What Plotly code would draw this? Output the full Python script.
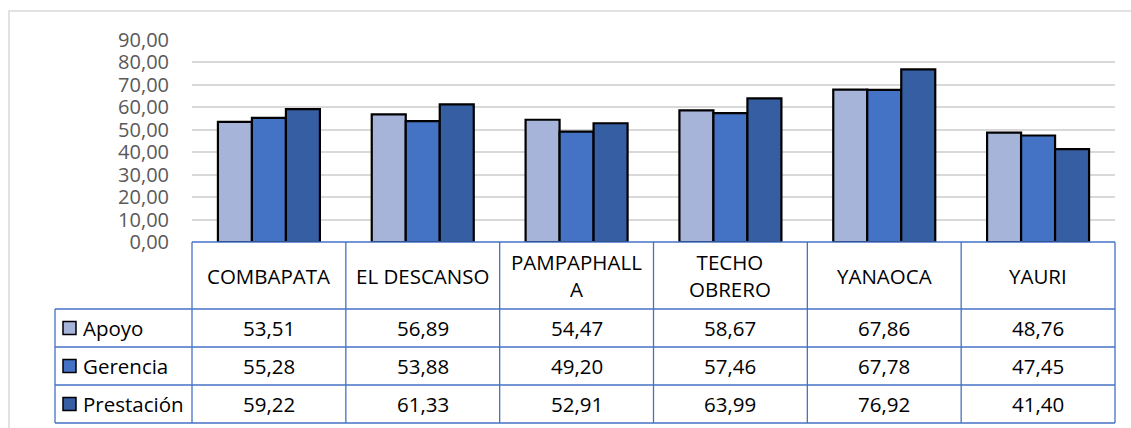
import plotly.graph_objects as go

# Sedes evaluadas y puntajes por dimensión
categories = ["COMBAPATA", "EL DESCANSO", "PAMPAPHALLA", "TECHO OBRERO", "YANAOCA", "YAURI"]
header_labels = ["COMBAPATA", "EL DESCANSO", "PAMPAPHALL<br>A", "TECHO<br>OBRERO", "YANAOCA", "YAURI"]
series_names = ["Apoyo", "Gerencia", "Prestación"]
apoyo = [53.51, 56.89, 54.47, 58.67, 67.86, 48.76]
gerencia = [55.28, 53.88, 49.20, 57.46, 67.78, 47.45]
prestacion = [59.22, 61.33, 52.91, 63.99, 76.92, 41.40]
y_ticks = [0, 10, 20, 30, 40, 50, 60, 70, 80, 90]

series_values = [apoyo, gerencia, prestacion]
colors = ["#A6B4DA", "#4472C4", "#365EA3"]

W, H = 1131, 428
PL, PR, PT, PB = 192, 1115, 40, 242  # plot area in pixels


def px(x):
    return (x - PL) / (PR - PL)


def py(y):
    return (PB - y) / (PB - PT)


FONT = "Open Sans"
BORDER = "#4472C4"
TABLE_SIZE = 20.5

fig = go.Figure()
for name, vals, col in zip(series_names, series_values, colors):
    fig.add_trace(go.Bar(
        x=categories, y=vals, name=name,
        marker=dict(color=col, line=dict(color="#000000", width=2.2)),
        showlegend=False, hoverinfo="x+y+name",
    ))

shapes = []
# outer chart frame
shapes.append(dict(type="rect", xref="paper", yref="paper",
                   x0=px(9), x1=px(1140), y0=py(11), y1=py(440),
                   line=dict(color="#D9D9D9", width=1.5), layer="below"))

# data table grid
col_w = (PR - PL) / len(categories)
row_edges = [309, 347, 385, 423]
leg_left = 55
line_style = dict(color=BORDER, width=1.3)
shapes.append(dict(type="line", xref="paper", yref="paper",
                   x0=px(PL), x1=px(PR), y0=py(PB), y1=py(PB), line=line_style))
for ry in row_edges:
    shapes.append(dict(type="line", xref="paper", yref="paper",
                       x0=px(leg_left), x1=px(PR), y0=py(ry), y1=py(ry), line=line_style))
shapes.append(dict(type="line", xref="paper", yref="paper",
                   x0=px(leg_left), x1=px(leg_left), y0=py(row_edges[0]), y1=py(row_edges[-1]),
                   line=line_style))
for k in range(len(categories) + 1):
    xx = PL + k * col_w
    shapes.append(dict(type="line", xref="paper", yref="paper",
                       x0=px(xx), x1=px(xx), y0=py(PB), y1=py(row_edges[-1]), line=line_style))

annotations = []
# column headers
for cat, lab in zip(categories, header_labels):
    annotations.append(dict(x=cat, xref="x", y=py((PB + row_edges[0]) / 2), yref="paper",
                            text=lab, showarrow=False, xanchor="center", yanchor="middle",
                            font=dict(family=FONT, size=TABLE_SIZE, color="#000000")))

# series rows: legend key, name and values
for r, (name, vals, col) in enumerate(zip(series_names, series_values, colors)):
    top, bot = row_edges[r], row_edges[r + 1]
    cy = (top + bot) / 2
    shapes.append(dict(type="rect", xref="paper", yref="paper",
                       x0=px(63), x1=px(76), y0=py(cy - 6.5), y1=py(cy + 6.5),
                       fillcolor=col, line=dict(color="#000000", width=1.5)))
    annotations.append(dict(x=px(81), xref="paper", y=py(cy), yref="paper",
                            text=name, showarrow=False, xanchor="left", yanchor="middle",
                            font=dict(family=FONT, size=TABLE_SIZE, color="#000000")))
    for cat, v in zip(categories, vals):
        annotations.append(dict(x=cat, xref="x", y=py(cy), yref="paper",
                                text=f"{v:.2f}".replace(".", ","), showarrow=False,
                                xanchor="center", yanchor="middle",
                                font=dict(family=FONT, size=TABLE_SIZE, color="#000000")))

fig.update_layout(
    width=W, height=H,
    margin=dict(l=PL, r=W - PR, t=PT, b=H - PB, pad=0),
    paper_bgcolor="white", plot_bgcolor="white",
    barmode="group", bargap=0.337, bargroupgap=0,
    separators=",.",
    shapes=shapes, annotations=annotations,
    xaxis=dict(showticklabels=False, showgrid=False, showline=False, zeroline=False,
               ticks="", range=[-0.5, 5.5]),
    yaxis=dict(range=[0, 90], tickvals=y_ticks, tickformat=".2f",
               showgrid=True, gridcolor="#D9D9D9", gridwidth=1.8,
               zeroline=False, showline=False, ticks="", ticklabelstandoff=22,
               tickfont=dict(family=FONT, size=20, color="#595959")),
)

fig.write_html("out.html")
